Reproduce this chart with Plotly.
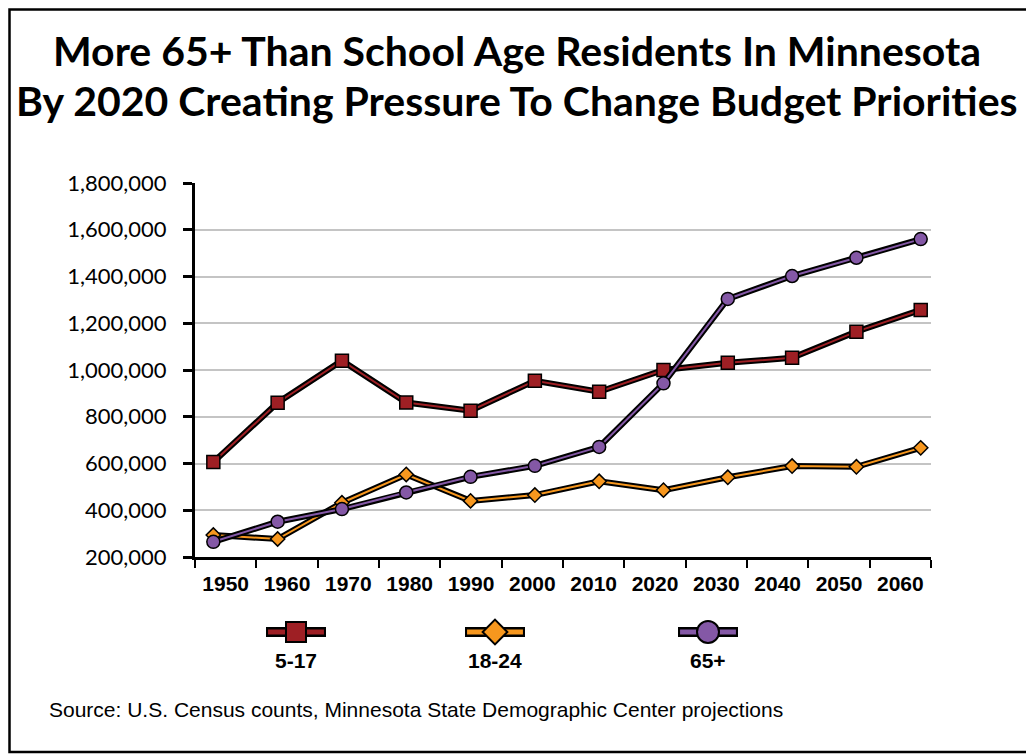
import plotly.graph_objects as go

# ---------------- data ----------------
years = [1950, 1960, 1970, 1980, 1990, 2000, 2010, 2020, 2030, 2040, 2050, 2060]
year_labels = [str(y) for y in years]
age_5_17 = [606000, 860000, 1040000, 861000, 826000, 954000, 907000, 1000000, 1031000, 1052000, 1164000, 1257000]
age_18_24 = [294000, 277000, 432000, 553000, 440000, 465000, 524000, 486000, 541000, 589000, 586000, 667000]
age_65_plus = [265000, 351000, 405000, 476000, 543000, 590000, 671000, 943000, 1304000, 1402000, 1480000, 1560000]
series_names = ["5-17", "18-24", "65+"]
y_ticks = [200000, 400000, 600000, 800000, 1000000, 1200000, 1400000, 1600000, 1800000]

title_line1 = "More 65+ Than School Age Residents In Minnesota"
title_line2 = "By 2020 Creating Pressure To Change Budget Priorities"
source_text = "Source: U.S. Census counts, Minnesota State Demographic Center projections"

# ---------------- style / layout ----------------
W, H = 1034, 755
OFF = 8  # page body margin compensation (px)


def fx(px):
    return (px - OFF) / W


def fy(py):
    return 1 - (py - OFF) / H


colors = ["#9E1F24", "#F7971E", "#8458A6"]
symbols = ["square", "diamond", "circle"]
marker_sizes = [13, 11, 13]
legend_marker_sizes = [20, 19, 22]
legend_cx_px = [296, 495, 708]
legend_half_px = 30
legend_sym_py = 632
legend_lab_py = 660

PX_L, PX_R, PX_T, PX_B = 195, 931, 183, 557
x_dom = [fx(PX_L), fx(PX_R)]
y_dom = [fy(PX_B), fy(PX_T)]

label_font = "Liberation Sans, Arial, sans-serif"
title_font = "Lato, Open Sans, sans-serif"

fig = go.Figure()

# invisible trace so the category axis is built
fig.add_trace(go.Scatter(x=list(range(len(years))), y=[None] * len(years),
                         xaxis="x", yaxis="y", mode="markers",
                         hoverinfo="skip", showlegend=False))

all_series = [age_5_17, age_18_24, age_65_plus]
for vals, col, sym, ms, name in zip(all_series, colors, symbols, marker_sizes, series_names):
    fig.add_trace(go.Scatter(
        x=years, y=vals, xaxis="x2", yaxis="y", mode="lines",
        line=dict(color="black", width=6), hoverinfo="skip", showlegend=False))
    fig.add_trace(go.Scatter(
        x=years, y=vals, xaxis="x2", yaxis="y", mode="lines+markers", name=name,
        line=dict(color=col, width=2),
        marker=dict(symbol=sym, size=ms, color=col, line=dict(color="black", width=1.5)),
        showlegend=False))

# custom legend (symbol above label)
for cpx, col, sym, ms, name in zip(legend_cx_px, colors, symbols, legend_marker_sizes, series_names):
    cx = fx(cpx)
    hl = legend_half_px / W
    sy = fy(legend_sym_py)
    fig.add_trace(go.Scatter(
        x=[cx - hl, cx + hl], y=[sy, sy],
        xaxis="x3", yaxis="y3", mode="lines",
        line=dict(color="black", width=10), hoverinfo="skip", showlegend=False))
    fig.add_trace(go.Scatter(
        x=[cx - hl + 0.002, cx + hl - 0.002], y=[sy, sy],
        xaxis="x3", yaxis="y3", mode="lines",
        line=dict(color=col, width=5), hoverinfo="skip", showlegend=False))
    fig.add_trace(go.Scatter(
        x=[cx], y=[sy], xaxis="x3", yaxis="y3", mode="markers",
        marker=dict(symbol=sym, size=ms, color=col, line=dict(color="black", width=2)),
        hoverinfo="skip", showlegend=False))
    fig.add_annotation(x=cx, y=fy(legend_lab_py), xref="paper", yref="paper",
                       text="<b>%s</b>" % name, showarrow=False,
                       font=dict(family=label_font, size=21, color="black"),
                       xanchor="center", yanchor="middle")

fig.update_layout(
    width=W, height=H,
    margin=dict(l=0, r=0, t=0, b=0, autoexpand=False),
    paper_bgcolor="white", plot_bgcolor="rgba(0,0,0,0)",
    showlegend=False,
    xaxis=dict(
        domain=x_dom, anchor="y", range=[-0.5, len(years) - 0.5],
        tickmode="array", tickvals=list(range(len(years))),
        ticktext=["<b>%s</b>" % t for t in year_labels],
        ticks="", showgrid=False, zeroline=False,
        showline=True, linecolor="black", linewidth=3,
        tickfont=dict(family=label_font, size=21, color="black"),
        ticklabelstandoff=6,
        minor=dict(ticks="outside", tick0=-0.5, dtick=1, ticklen=8, tickwidth=2,
                   tickcolor="black", showgrid=False),
    ),
    xaxis2=dict(
        overlaying="x", anchor="y", domain=x_dom,
        range=[1947.15, 2061.6], visible=False,
    ),
    yaxis=dict(
        domain=y_dom, anchor="x", range=[200000, 1800000],
        tickmode="array", tickvals=y_ticks, tickformat=",d",
        ticks="outside", ticklen=9, tickwidth=3, tickcolor="black",
        showline=True, linecolor="black", linewidth=3,
        showgrid=True, gridcolor="#C4C4C4", gridwidth=2, zeroline=False,
        tickfont=dict(family=title_font, size=22, color="black"),
        ticklabelstandoff=12,
    ),
    xaxis3=dict(domain=[0, 1], anchor="y3", range=[0, 1], visible=False),
    yaxis3=dict(domain=[0, 1], anchor="x3", range=[0, 1], visible=False),
)

# titles and source
fig.add_annotation(x=fx(517), y=fy(50), xref="paper", yref="paper",
                   text="<b>%s</b>" % title_line1, showarrow=False,
                   font=dict(family=title_font, size=41, color="black"),
                   xanchor="center", yanchor="middle")
fig.add_annotation(x=fx(517), y=fy(101), xref="paper", yref="paper",
                   text="<b>%s</b>" % title_line2, showarrow=False,
                   font=dict(family=title_font, size=41, color="black"),
                   xanchor="center", yanchor="middle")
fig.add_annotation(x=fx(47), y=fy(709), xref="paper", yref="paper",
                   text=source_text, showarrow=False,
                   font=dict(family="Liberation Sans, Arial, sans-serif", size=21, color="black"),
                   xanchor="left", yanchor="middle")

# outer frame
fig.add_shape(type="rect", xref="paper", yref="paper",
              x0=1.5 / W, x1=fx(1031), y0=fy(752), y1=1 - 1.5 / H,
              line=dict(color="black", width=2.5), fillcolor="rgba(0,0,0,0)", layer="above")

fig.write_html("out.html")
